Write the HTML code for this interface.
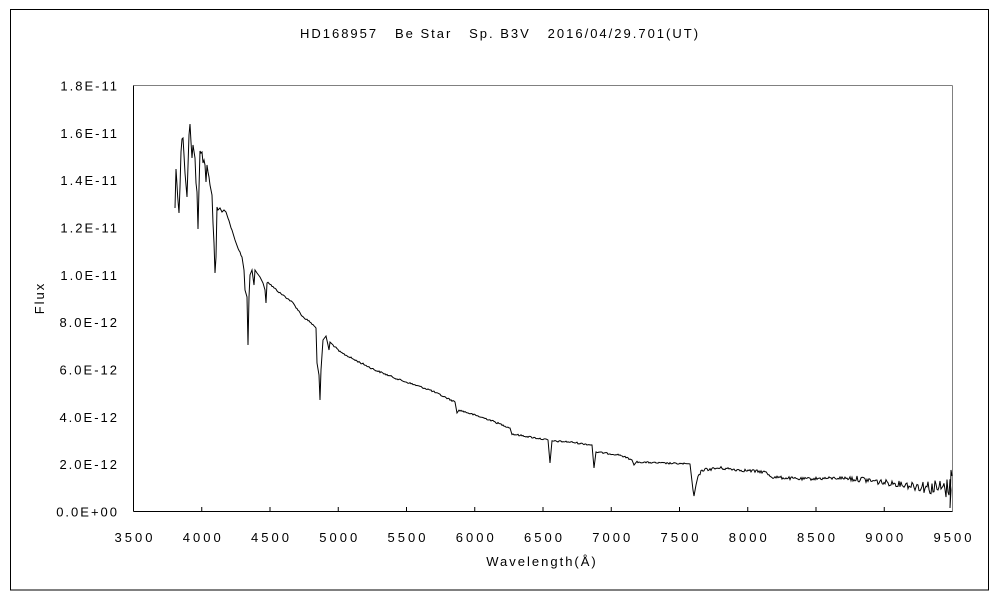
<!DOCTYPE html>
<html><head><meta charset="utf-8"><style>
body{margin:0;background:#fff;}
svg{display:block;font-family:"Liberation Sans",sans-serif;}
</style></head><body>
<svg width="1000" height="600" viewBox="0 0 1000 600" xmlns="http://www.w3.org/2000/svg">
<rect x="0" y="0" width="1000" height="600" fill="#fff"/>
<rect x="10.5" y="9.5" width="978" height="580.5" fill="none" stroke="#000" stroke-width="1"/>
<text x="500" y="38" font-size="13" letter-spacing="2" text-anchor="middle" fill="#000" xml:space="preserve">HD168957   Be Star   Sp. B3V   2016/04/29.701(UT)</text>
<line x1="133.5" y1="85.5" x2="952.5" y2="85.5" stroke="#808080"/>
<line x1="952.5" y1="85.5" x2="952.5" y2="511.5" stroke="#808080"/>
<line x1="133.5" y1="85.5" x2="133.5" y2="511.5" stroke="#000"/>
<line x1="133.5" y1="511.5" x2="952.5" y2="511.5" stroke="#000"/>
<g id="ticks" stroke="#000"></g>
<g font-size="13" fill="#000" text-anchor="end" letter-spacing="2" id="ylab"></g>
<g font-size="13" fill="#000" text-anchor="middle" letter-spacing="3" id="xlab"></g>
<text x="44" y="298" font-size="13" letter-spacing="2" text-anchor="middle" transform="rotate(-90 44 298)">Flux</text>
<text x="542" y="566" font-size="13" letter-spacing="2" text-anchor="middle">Wavelength(Å)</text>
<polyline id="spec" fill="none" stroke="#000" stroke-width="1" points=""/>
</svg>
<script>
var ns="http://www.w3.org/2000/svg";
function el(t,a,txt,p){var e=document.createElementNS(ns,t);for(var k in a)e.setAttribute(k,a[k]);if(txt)e.textContent=txt;document.getElementById(p).appendChild(e);}
var ylabs=["0.0E+00","2.0E-12","4.0E-12","6.0E-12","8.0E-12","1.0E-11","1.2E-11","1.4E-11","1.6E-11","1.8E-11"];
for(var i=0;i<10;i++){var y=511.5-i*47.33;el("text",{x:119,y:y+5},ylabs[i],"ylab");}
for(var i=0;i<=12;i++){var w=3500+i*500;var x=133.5+i*68.25;el("text",{x:x+1.5,y:542},""+w,"xlab");
 if(i>0&&i<12)el("line",{x1:x,y1:511.5,x2:x,y2:507},null,"ticks");}
var k=[[175,208],[176,169],[177,185],[177.7,197],[179,213],[180,187],[181,152],[182,139],[183,138],[184,155],[185,173],[187,197],[189,135],[190,124],[191,142],[192,158],[193,145],[195,158],[196,183],[197,192],[198,229],[199,188],[200,151],[201,153],[202,152],[203,163],[204,160],[205,165],[206,182],[207,165],[208,172],[209,177],[210,185],[212,195],[213,223],[214,243],[215,273],[216,257],[217,207],[218,210],[220,208],[222,212],[224,210],[226,212],[228,218],[232,230],[235,240],[238,248],[242,257],[244,270],[245,290],[247,297],[248,345],[249,297],[250,275],[252,270],[254,285],[255,270],[257,273],[260,277],[263,283],[265,290],[266,303],[267,283],[268,282],[273,287],[280,293],[287,298],[293,303],[298,310],[303,317],[310,322],[316,328],[317,363],[319,375],[320,400],[321,370],[323,340],[326,336],[328,345],[329,350],[330,342],[333,345],[340,352],[355,360],[375,370],[400,380],[430,390],[455,402],[457,413],[459,410],[490,420],[510,428],[512,434],[530,437],[548,440],[550,463],[552,441],[570,442],[592,445],[594,468],[596,452],[620,455],[632,460],[634,465],[637,462],[660,463],[690,464],[693,490],[694,496],[696,485],[698,477],[702,470],[720,468],[740,470],[765,472],[772,477],[800,479],[840,478],[860,479],[880,482],[900,484],[920,486],[945,489],[952,487]];
var pts=[];var s=12345;function r(){s=(s*1103515245+12345)%2147483648;return s/2147483648-0.5;}
for(var i=0;i<k.length-1;i++){var a=k[i],b=k[i+1];
 if(b[0]-a[0]>3){for(var x=a[0];x<b[0];x+=1){var t=(x-a[0])/(b[0]-a[0]);var y=a[1]+(b[1]-a[1])*t;
  var amp=x<700?0.8:(x<850?1.5:(x<900?3:3+(x-900)*0.15));y+=r()*amp*2;pts.push(x.toFixed(1)+","+y.toFixed(1));}}
 else pts.push(a[0]+","+a[1]);}
pts.push("950,508");pts.push("951,470");pts.push("952,476");
document.getElementById("spec").setAttribute("points",pts.join(" "));
</script>
</body></html>
